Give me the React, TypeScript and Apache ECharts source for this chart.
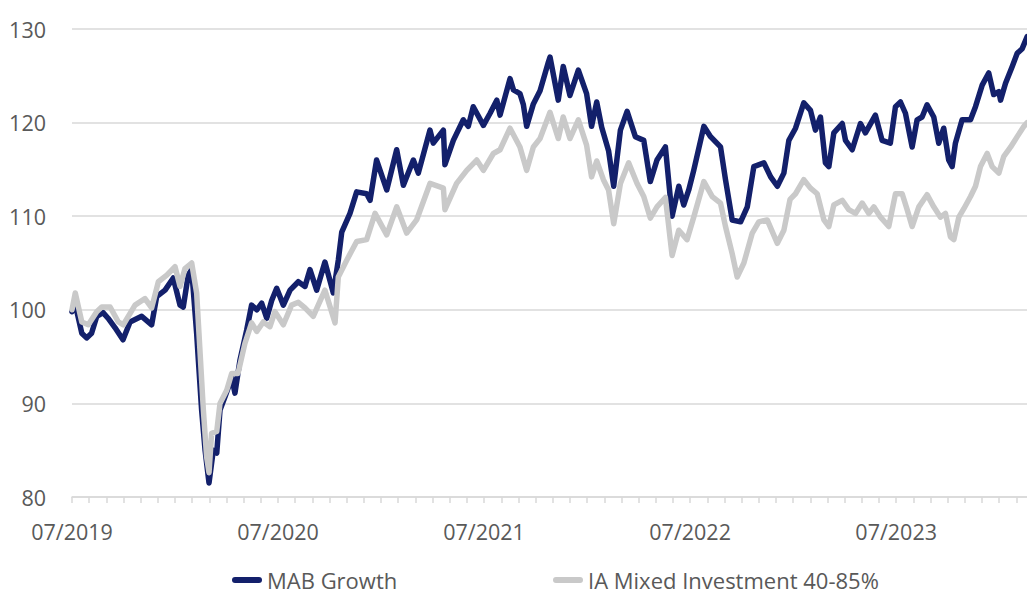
import React, { useEffect, useRef } from "react";
import * as echarts from "echarts";

// x = months since 07/2019, y = indexed value
const mabT = [0.0, 0.19, 0.57, 0.85, 1.14, 1.44, 1.81, 2.1, 2.5, 2.97, 3.38, 4.06, 4.64, 4.93, 5.42, 5.9, 6.29, 6.48, 6.77, 6.97, 7.26, 7.36, 7.55, 7.75, 7.98, 8.23, 8.43, 8.62, 8.91, 9.2, 9.3, 9.49, 9.78, 10.17, 10.46, 10.76, 11.05, 11.34, 11.63, 11.92, 12.31, 12.7, 13.18, 13.57, 13.86, 14.25, 14.73, 15.22, 15.51, 15.71, 16.19, 16.58, 17.16, 17.36, 17.74, 18.33, 18.91, 19.3, 19.88, 20.17, 20.85, 21.04, 21.63, 21.72, 22.21, 22.79, 23.08, 23.37, 23.96, 24.35, 24.74, 24.93, 25.51, 25.71, 26.09, 26.29, 26.48, 26.87, 27.26, 27.75, 27.84, 28.32, 28.61, 29.0, 29.49, 29.97, 30.26, 30.56, 30.85, 31.25, 31.55, 31.94, 32.33, 32.81, 33.3, 33.68, 34.07, 34.56, 34.95, 35.34, 35.63, 35.92, 36.21, 36.8, 37.19, 37.77, 38.06, 38.45, 38.94, 39.33, 39.71, 40.3, 40.69, 41.08, 41.46, 41.75, 42.14, 42.62, 43.01, 43.3, 43.59, 43.88, 44.08, 44.37, 44.86, 45.05, 45.44, 45.92, 46.21, 46.79, 47.18, 47.66, 47.96, 48.25, 48.54, 48.93, 49.22, 49.51, 49.8, 50.19, 50.48, 50.77, 51.06, 51.26, 51.45, 51.84, 52.33, 52.62, 53.01, 53.39, 53.68, 53.98, 54.08, 54.37, 54.76, 55.05, 55.34, 55.63];
const mabV = [99.8, 100.6, 97.5, 97.0, 97.5, 99.3, 99.7, 99.1, 98.1, 96.8, 98.7, 99.3, 98.4, 101.4, 102.1, 103.4, 100.5, 100.3, 103.7, 104.3, 97.5, 94.6, 89.3, 85.0, 81.5, 85.0, 84.7, 89.3, 90.7, 92.2, 92.8, 91.1, 94.6, 97.8, 100.5, 100.0, 100.7, 99.1, 101.0, 102.3, 100.5, 102.1, 103.0, 102.5, 104.3, 102.1, 105.1, 101.8, 105.3, 108.3, 110.3, 112.6, 112.4, 111.7, 116.0, 112.8, 117.1, 113.3, 116.0, 114.6, 119.2, 117.8, 119.2, 115.5, 118.1, 120.3, 119.6, 121.7, 119.7, 121.0, 122.4, 120.8, 124.7, 123.5, 123.1, 121.9, 119.6, 122.0, 123.4, 126.5, 127.0, 122.4, 126.0, 122.9, 125.6, 123.1, 119.6, 122.2, 119.5, 117.0, 113.2, 119.2, 121.2, 118.5, 118.1, 113.7, 116.0, 117.4, 110.0, 113.2, 111.2, 112.8, 114.9, 119.6, 118.5, 117.4, 113.9, 109.6, 109.4, 111.0, 115.3, 115.7, 114.2, 113.2, 114.6, 118.1, 119.4, 122.1, 121.3, 119.2, 120.6, 115.7, 115.3, 118.9, 119.9, 118.1, 117.1, 119.9, 118.9, 120.8, 118.1, 117.8, 121.7, 122.2, 121.0, 117.4, 120.3, 120.6, 121.9, 120.6, 117.8, 119.4, 116.0, 115.3, 117.8, 120.3, 120.3, 121.7, 124.0, 125.3, 123.0, 123.3, 122.4, 124.2, 126.0, 127.4, 127.9, 129.2];

const iaT = [0.0, 0.19, 0.57, 0.95, 1.44, 1.73, 2.22, 2.7, 2.99, 3.67, 4.25, 4.64, 5.03, 5.52, 6.0, 6.29, 6.58, 6.97, 7.26, 7.36, 7.65, 7.84, 7.98, 8.13, 8.43, 8.62, 9.01, 9.3, 9.67, 10.07, 10.46, 10.76, 11.14, 11.53, 11.82, 12.31, 12.79, 13.18, 13.57, 14.05, 14.73, 15.32, 15.51, 16.0, 16.58, 17.16, 17.65, 18.33, 18.91, 19.49, 20.07, 20.85, 21.63, 21.72, 22.4, 22.99, 23.57, 23.96, 24.54, 24.93, 25.51, 26.09, 26.48, 26.87, 27.26, 27.84, 28.32, 28.61, 29.0, 29.49, 29.97, 30.26, 30.56, 30.95, 31.25, 31.55, 31.94, 32.42, 32.91, 33.3, 33.68, 34.07, 34.56, 34.95, 35.34, 35.82, 36.21, 36.8, 37.29, 37.77, 38.06, 38.45, 38.74, 39.13, 39.62, 40.0, 40.49, 41.08, 41.46, 41.82, 42.14, 42.62, 43.01, 43.4, 43.79, 44.08, 44.37, 44.86, 45.24, 45.63, 46.02, 46.41, 46.7, 47.09, 47.57, 47.96, 48.35, 48.64, 48.93, 49.32, 49.8, 50.19, 50.58, 50.87, 51.16, 51.36, 51.65, 51.94, 52.33, 52.62, 52.91, 53.3, 53.59, 53.98, 54.27, 54.67, 55.05, 55.44, 55.63];
const iaV = [100.0, 101.8, 98.7, 98.4, 99.8, 100.3, 100.3, 98.7, 98.4, 100.5, 101.2, 100.2, 103.0, 103.7, 104.6, 102.5, 104.4, 105.0, 101.8, 98.6, 89.3, 84.3, 82.6, 86.8, 87.0, 90.0, 91.4, 93.2, 93.2, 96.4, 98.6, 97.7, 98.7, 98.2, 99.8, 98.4, 100.5, 100.8, 100.2, 99.3, 102.1, 98.6, 103.5, 105.3, 107.3, 107.5, 110.3, 108.0, 111.0, 108.2, 109.6, 113.5, 113.0, 110.7, 113.5, 114.9, 116.0, 114.9, 116.7, 117.1, 119.4, 117.4, 114.9, 117.4, 118.3, 121.1, 118.3, 120.6, 118.3, 120.3, 117.6, 114.2, 115.9, 113.9, 112.8, 109.2, 113.5, 115.7, 113.5, 112.1, 109.8, 111.0, 112.0, 105.8, 108.5, 107.5, 109.9, 113.7, 112.1, 111.4, 108.9, 106.0, 103.5, 105.0, 108.2, 109.4, 109.6, 107.1, 108.5, 111.8, 112.4, 113.9, 113.0, 112.4, 109.6, 108.9, 111.2, 111.7, 110.7, 110.3, 111.4, 110.3, 111.0, 109.9, 108.9, 112.4, 112.4, 110.7, 108.9, 111.0, 112.3, 111.0, 109.9, 110.3, 107.8, 107.5, 109.9, 110.8, 112.1, 113.2, 115.3, 116.7, 115.3, 114.6, 116.4, 117.4, 118.5, 119.6, 120.0];

const seriesNames = ["MAB Growth", "IA Mixed Investment 40-85%"];
const seriesColors = ["#13206b", "#c9c9c9"];
const startYear = 2019;

const FONT = "'Open Sans', 'Noto Sans', sans-serif";
const TXT = "#595959";
const GRID = "#d9d9d9";
const CAPSULE = "path://M3,0 H27 A3,3 0 0 1 27,6 H3 A3,3 0 0 1 3,0 Z";

export default function App() {
  const ref = useRef<HTMLDivElement>(null);
  useEffect(() => {
    if (!ref.current) return;
    const chart = echarts.init(ref.current, undefined, { renderer: "svg" });
    const zip = (t: number[], v: number[]) => t.map((x, i) => [x, v[i]]);
    const legendBase = {
      top: 568,
      padding: 0,
      itemWidth: 30,
      itemHeight: 6,
      icon: CAPSULE,
      textStyle: { color: TXT, fontSize: 22, lineHeight: 24, fontFamily: FONT },
    };
    chart.setOption({
      animation: false,
      textStyle: { fontFamily: FONT },
      grid: { left: 72, right: 0, top: 29, bottom: 99, containLabel: false },
      xAxis: {
        type: "value",
        min: 0,
        max: 55.62,
        interval: 1,
        axisLine: { show: true, lineStyle: { color: GRID, width: 1.5 } },
        axisTick: { show: true, length: 6, lineStyle: { color: GRID, width: 1.5 } },
        splitLine: { show: false },
        axisLabel: {
          show: true,
          margin: 23,
          color: TXT,
          fontSize: 21.5,
          fontFamily: FONT,
          showMaxLabel: false,
          formatter: (v: number) => {
            const r = Math.round(v);
            if (Math.abs(v - r) > 1e-6 || r % 12 !== 0) return "";
            return "07/" + (startYear + r / 12);
          },
        },
      },
      yAxis: {
        type: "value",
        min: 80,
        max: 130,
        interval: 10,
        axisLine: { show: false },
        axisTick: { show: false },
        splitLine: { show: true, lineStyle: { color: GRID, width: 1.5 } },
        axisLabel: { color: TXT, fontSize: 21.5, fontFamily: FONT, margin: 26 },
      },
      legend: [
        { ...legendBase, left: 232, data: [{ name: seriesNames[0], itemStyle: { color: seriesColors[0] } }] },
        { ...legendBase, left: 553, data: [{ name: seriesNames[1], itemStyle: { color: seriesColors[1] } }] },
      ],
      series: [
        {
          name: seriesNames[0],
          type: "line",
          data: zip(mabT, mabV),
          showSymbol: false,
          symbol: "none",
          color: seriesColors[0],
          lineStyle: { color: seriesColors[0], width: 5.5, cap: "round", join: "round" },
        },
        {
          name: seriesNames[1],
          type: "line",
          data: zip(iaT, iaV),
          showSymbol: false,
          symbol: "none",
          color: seriesColors[1],
          lineStyle: { color: seriesColors[1], width: 5.5, cap: "round", join: "round" },
        },
      ],
    });
    return () => chart.dispose();
  }, []);
  return (
    <div
      ref={ref}
      style={{ position: "absolute", left: 0, top: 0, width: 1027, height: 596 }}
    />
  );
}
